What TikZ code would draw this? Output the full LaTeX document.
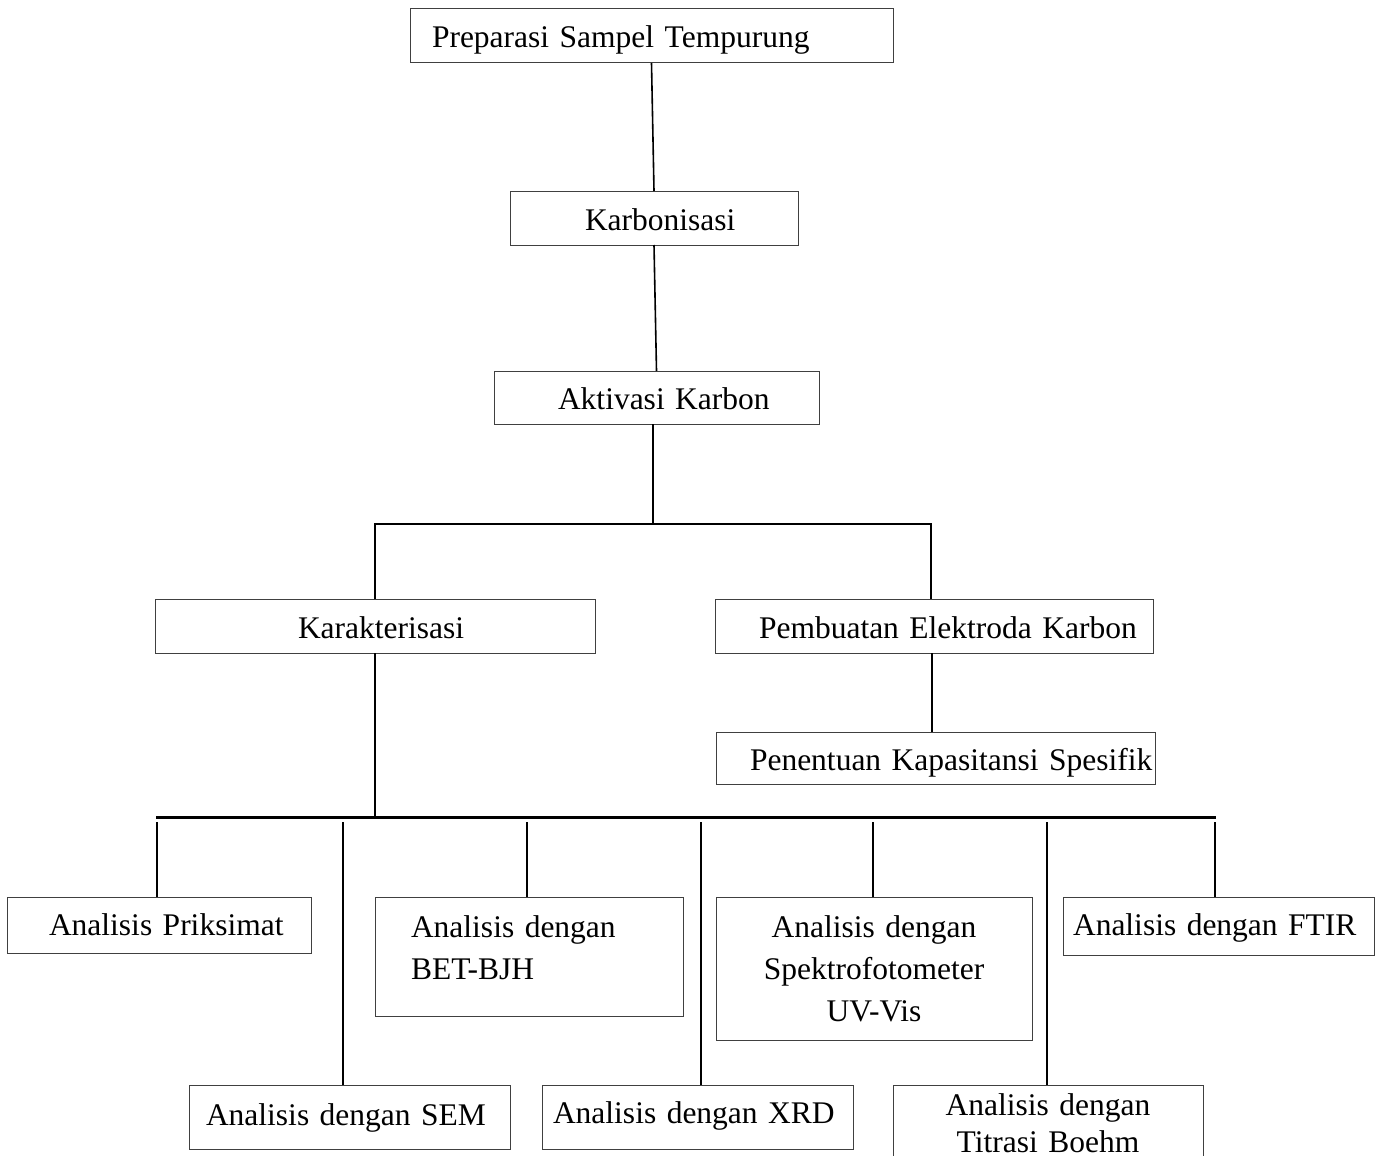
\documentclass[tikz,border=0pt]{standalone}
\usepackage{fontspec}
\setmainfont{Liberation Serif}
\tikzset{
box/.style = {rectangle, draw=black!75, line width=1pt, inner sep=0pt, outer sep=0pt, anchor=north west, text width=#1, align=left},
box/.default = 300pt % width of the box
}
\tikzset{
oneline/.style = {text height=#1, text depth=0pt},
oneline/.default = 24pt % puts the baseline half of this below the centre
}
\tikzset{link/.style={line width=1.6pt}}
\tikzset{bus/.style={line width=3pt}}

\begin{document}
\begin{tikzpicture}[x=1pt, y=-1pt,
      every node/.style={font=\fontsize{31.5}{42}\selectfont}]
    \useasboundingbox (0,0) rectangle (1384,1156);
    % main chain
    \node [box=483pt, oneline, minimum height=54pt] (prep) at (410,9) {\hspace*{22pt}\mbox{Preparasi Sampel Tempurung}};
    \node [box=288pt, oneline, minimum height=54pt] (karb) at (510,191) {\hspace*{75pt}Karbonisasi};
    \node [box=325pt, oneline, minimum height=53pt] (akt) at (494,371) {\hspace*{64pt}\mbox{Aktivasi Karbon}};
    \node [box=440pt, oneline, minimum height=54pt] (kar) at (155,599) {\hspace*{143pt}Karakterisasi};
    \node [box=438pt, oneline, minimum height=54pt] (pemb) at (715,599) {\hspace*{44pt}\mbox{Pembuatan Elektroda Karbon}};
    \node [box=439pt, oneline, minimum height=52pt] (pen) at (716,732) {\hspace*{34pt}\mbox{Penentuan Kapasitansi Spesifik}};
    % analyses
    \node [box=304pt, oneline=20pt, minimum height=56pt] (priks) at (7,897) {\hspace*{42pt}\mbox{Analisis Priksimat}};
    \node [box=308pt, minimum height=119pt] (bet) at (375,897)
        {\hspace*{36pt}Analisis dengan\\\hspace*{36pt}BET-BJH\rule[-18pt]{0pt}{18pt}};
    \node [box=316pt, minimum height=143pt, align=center] (spek) at (716,897)
        {Analisis dengan\\Spektrofotometer\\UV-Vis};
    \node [box=311pt, oneline=18pt, minimum height=58pt] (ftir) at (1063,897) {\hspace*{10pt}\mbox{Analisis dengan FTIR}};
    \node [box=321pt, oneline=17pt, minimum height=64pt] (sem) at (189,1085) {\hspace*{17pt}\mbox{Analisis dengan SEM}};
    \node [box=311pt, oneline=12pt, minimum height=64pt] (xrd) at (542,1085) {\hspace*{11pt}\mbox{Analisis dengan XRD}};
    \node [box=310pt, minimum height=76pt, align=center,
           font=\fontsize{31.5}{37}\selectfont] (tit) at (893,1085)
        {Analisis dengan\\Titrasi Boehm};

    % connectors
    \draw [link] (prep.south) -- (karb.north);
    \draw [link] (karb.south) -- (akt.north);
    \draw [link] (akt.south -| 653,0) -- (653,524) coordinate (split);
    \draw [link] (kar.north) |- (split) -| (pemb.north -| 931,0);
    \draw [link] (pemb.south -| 932,0) -- (pen.north -| 932,0);
    \draw [link] (kar.south) -- (kar.south |- 0,817) coordinate (join);
    \coordinate (busL) at (156,817);
    \coordinate (busR) at (1216,817);
    \draw [bus] (busL) -- (busR);
    \coordinate (drop) at (0,822);
    \foreach \n/\x in {priks/157, sem/343, bet/527, xrd/701, spek/873, tit/1047, ftir/1215}
        \draw [link] (drop -| \x,0) -- (\n.north -| \x,0);
\end{tikzpicture}
\end{document}
